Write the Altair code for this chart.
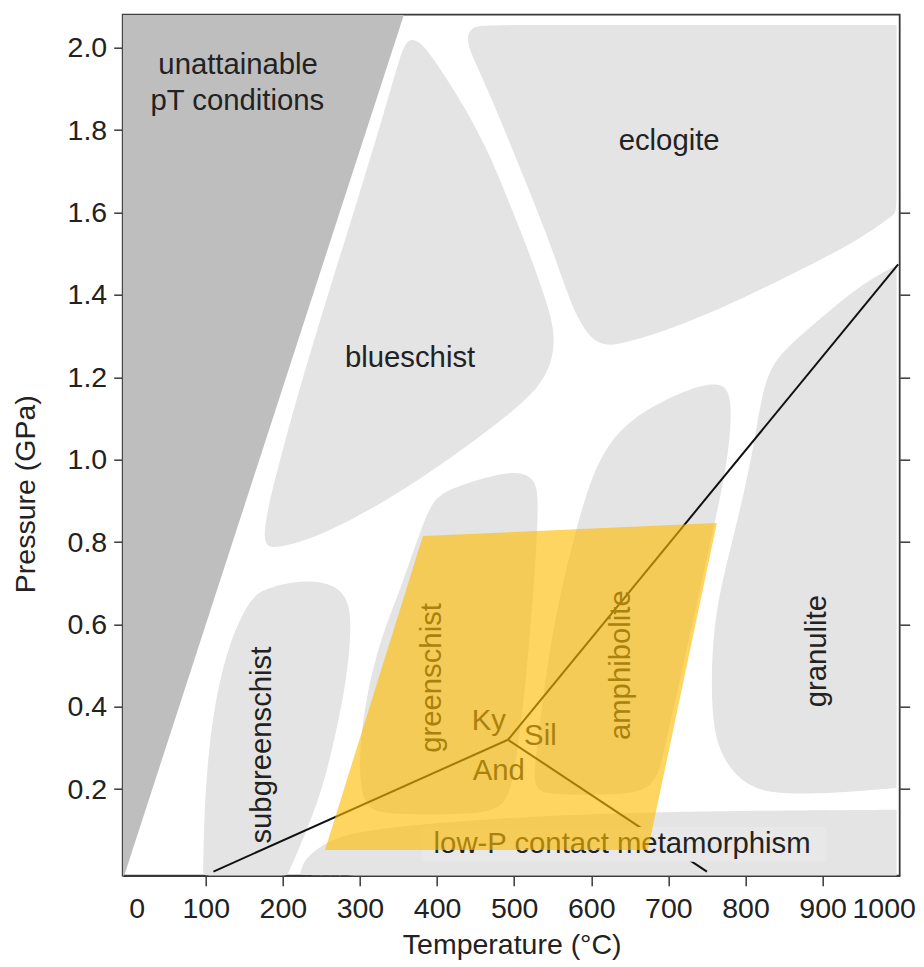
import altair as alt
import pandas as pd

# ---------------- data (Temperature °C, Pressure GPa) ----------------
X_TICKS = [0, 100, 200, 300, 400, 500, 600, 700, 800, 900, 1000]
Y_TICKS = [0.2, 0.4, 0.6, 0.8, 1.0, 1.2, 1.4, 1.6, 1.8, 2.0]
Y_TICKS_RIGHT = [0.2, 0.4, 0.6, 0.8, 1.0, 1.2, 1.4, 1.6]

T_DOMAIN = [-7.7, 1000]
P_DOMAIN = [-0.01, 2.08]

UNATTAINABLE = [(-7.7, -0.01), (-7.7, 2.08), (357, 2.08), (-4, 0.0), (-6, -0.01)]

BLUESCHIST = [(362, 2.025), (378, 2.015), (395, 1.975), (428, 1.88), (464, 1.76), (490, 1.64),
              (518, 1.51), (541, 1.39), (553, 1.31), (550, 1.24), (533, 1.176),
              (494, 1.11), (421, 1.007), (335, 0.90), (248, 0.813), (191, 0.784), (178, 0.79),
              (175, 0.822), (183, 0.902), (194, 0.982), (217, 1.144), (256, 1.387),
              (297, 1.63), (336, 1.872), (352, 1.98)]

ECLOGITE = [(437, 2.02), (445, 2.054), (470, 2.055), (996, 2.055), (996, 2.055), (996, 2.055),
            (996, 1.60), (996, 1.60), (948, 1.533), (862, 1.452), (775, 1.371), (689, 1.307),
            (645, 1.285), (620, 1.274), (598, 1.295), (583, 1.343), (572, 1.387), (542, 1.55),
            (507, 1.71), (472, 1.872), (448, 1.97)]

GRANULITE = [(996, 1.472), (996, 1.472), (948, 1.423), (905, 1.355), (857, 1.278), (834, 1.23),
             (821, 1.157), (812, 1.047), (799, 0.926), (780, 0.78), (764, 0.659), (756, 0.533),
             (756, 0.373), (767, 0.283), (795, 0.215), (834, 0.186), (920, 0.191),
             (996, 0.203), (996, 0.203), (996, 0.203), (996, 1.472)]

AMPHIBOLITE = [(523, 0.206), (531, 0.32), (540, 0.465), (555, 0.635), (575, 0.793), (598, 0.95),
               (624, 1.047), (663, 1.115), (728, 1.174), (764, 1.188), (780, 1.168), (782, 1.095),
               (775, 0.975), (758, 0.829), (738, 0.659), (715, 0.465), (692, 0.271),
               (680, 0.191), (611, 0.186), (540, 0.186)]

GREENSCHIST = [(378, 0.822), (391, 0.89), (410, 0.926), (465, 0.958), (495, 0.97), (518, 0.965),
               (530, 0.938), (531, 0.877), (528, 0.756), (520, 0.562), (510, 0.368),
               (497, 0.198), (482, 0.145), (417, 0.138), (326, 0.138), (303, 0.162),
               (298, 0.271), (307, 0.417), (326, 0.562), (352, 0.683), (365, 0.756)]

SUBGREENSCHIST = [(96.5, -0.01), (96.5, -0.01), (97.8, 0.125), (101.6, 0.247), (109.4, 0.385),
                  (127.6, 0.545), (157.4, 0.666), (179.4, 0.688), (222.2, 0.708), (265, 0.70),
                  (283.2, 0.666), (289.7, 0.61), (283.2, 0.465), (265, 0.303), (248.2, 0.181),
                  (222.2, 0.06), (205.4, -0.01), (205.4, -0.01)]

LOW_P = [(222, -0.01), (222, -0.01), (226, 0.024), (242, 0.053), (274, 0.089), (352, 0.111),
         (482, 0.13), (611, 0.14), (741, 0.147), (996, 0.15), (996, 0.15), (996, 0.15),
         (996, -0.01), (996, -0.01), (996, -0.01)]

YELLOW = [(381.7, 0.8145), (762.9, 0.846), (673.4, 0.0526), (254.7, 0.0526)]

KY_AND = [(110, 0.0), (492, 0.32)]
KY_SIL = [(492, 0.32), (998, 1.474)]
AND_SIL = [(492, 0.32), (750, 0.0)]

LABEL_BOX = {"T": 380, "T2": 905, "P": 0.024, "P2": 0.108}

UPRIGHT_LABELS = [("unattainable", 142, 1.937), ("pT conditions", 141, 1.848),
                  ("eclogite", 701, 1.751), ("blueschist", 365, 1.225),
                  ("Ky", 467, 0.344), ("Sil", 534, 0.307), ("And", 480, 0.2225),
                  ("low-P contact metamorphism", 640, 0.0446)]

ROTATED_LABELS = [("subgreenschist", 173, 0.307), ("greenschist", 393, 0.470),
                  ("amphibolite", 638, 0.501), ("granulite", 893, 0.535)]


def poly_df(regions):
    rows = []
    for name, pts in regions.items():
        for i, (t, p) in enumerate(pts):
            rows.append({"region": name, "idx": i, "T": t, "P": p})
    return pd.DataFrame(rows)


FONT = "Liberation Sans"
FS = 28.5
FS_LAB = 29.3
TXT = "#222222"
AX = "#3a3a3a"

xscale = alt.Scale(domain=T_DOMAIN, nice=False, zero=False)
yscale = alt.Scale(domain=P_DOMAIN, nice=False, zero=False)

x_axis = alt.Axis(
    values=X_TICKS, format="d", title="Temperature (°C)", grid=False, orient="bottom",
    labelFont=FONT, labelFontSize=FS, labelColor=TXT, labelPadding=9,
    labelOverlap=False, labelFlush=False,
    labelOffset={"condition": [{"test": "datum.value == 0", "value": 8},
                               {"test": "datum.value == 1000", "value": -16}], "value": 0},
    tickOpacity={"condition": {"test": "datum.value == 0 || datum.value == 1000", "value": 0},
                 "value": 1},
    tickSize=10, tickWidth=1.5, tickColor=AX, domainColor=AX, domainWidth=1.8,
    titleFont=FONT, titleFontSize=FS, titleFontWeight="normal", titleColor=TXT,
    titleX=389, titleY=78, titleBaseline="alphabetic", titleAlign="center",
)
y_axis = alt.Axis(
    values=Y_TICKS, format=".1f", title="Pressure (GPa)", grid=False, orient="left",
    labelFont=FONT, labelFontSize=FS, labelColor=TXT, labelPadding=7, labelOverlap=False,
    tickSize=9, tickWidth=1.5, tickColor=AX, domainColor=AX, domainWidth=1.8,
    titleFont=FONT, titleFontSize=FS, titleFontWeight="normal", titleColor=TXT,
    titleX=-88, titleY=479, titleAngle=270, titleBaseline="alphabetic", titleAlign="center",
)
y_axis_right = alt.Axis(
    values=Y_TICKS_RIGHT, orient="right", labels=False, title="", grid=False, domain=False,
    tickSize=10, tickWidth=1.5, tickColor=AX,
)


def X():
    return alt.X("T:Q", scale=xscale, axis=x_axis)


def Y(axis=None):
    return alt.Y("P:Q", scale=yscale, axis=axis)


dark = alt.Chart(poly_df({"u": UNATTAINABLE})).mark_line(
    interpolate="linear-closed", fill="#bebebe", strokeWidth=0, clip=True
).encode(x=X(), y=Y(y_axis), detail="region:N", order="idx:Q",
         fill=alt.value("#bebebe"))

gray = alt.Chart(poly_df({
    "blueschist": BLUESCHIST, "eclogite": ECLOGITE, "granulite": GRANULITE,
    "amphibolite": AMPHIBOLITE, "greenschist": GREENSCHIST,
    "subgreenschist": SUBGREENSCHIST, "lowp": LOW_P,
})).mark_line(interpolate="basis-closed", fill="#e4e4e4", strokeWidth=0, clip=True).encode(
    x=X(), y=Y(), detail="region:N", order="idx:Q", fill=alt.value("#e4e4e4"))

lines = alt.Chart(poly_df({"kyand": KY_AND, "kysil": KY_SIL, "andsil": AND_SIL})).mark_line(
    color="#111111", strokeWidth=2, clip=True
).encode(x=X(), y=Y(), detail="region:N", order="idx:Q")

box = alt.Chart(pd.DataFrame([LABEL_BOX])).mark_rect(color="#e8e8e8", clip=True).encode(
    x=X(), x2="T2:Q", y=Y(), y2="P2:Q")

upright = alt.Chart(pd.DataFrame(UPRIGHT_LABELS, columns=["label", "T", "P"])).mark_text(
    font=FONT, fontSize=FS_LAB, color=TXT, align="center", baseline="alphabetic"
).encode(x=X(), y=Y(), text="label:N")

rotated = alt.Chart(pd.DataFrame(ROTATED_LABELS, columns=["label", "T", "P"])).mark_text(
    font=FONT, fontSize=FS_LAB, color=TXT, align="center", baseline="middle", angle=270
).encode(x=X(), y=Y(), text="label:N")

yellow = alt.Chart(poly_df({"y": YELLOW})).mark_line(
    interpolate="linear-closed", fill="#fdbc00", fillOpacity=0.62, strokeWidth=0, clip=True
).encode(x=X(), y=Y(y_axis_right), detail="region:N", order="idx:Q",
         fill=alt.value("#fdbc00"))

chart = alt.layer(dark, gray, lines, box, upright, rotated, yellow).resolve_axis(
    y="independent"
).properties(
    width=777, height=861,
    autosize=alt.AutoSizeParams(type="none"),
    padding={"left": 114.7, "top": 6.7, "right": 16, "bottom": 90},
    background="white",
).configure_view(stroke=AX, strokeWidth=1.8)

chart.save("out.html", embed_options={"renderer": "svg", "actions": False})
